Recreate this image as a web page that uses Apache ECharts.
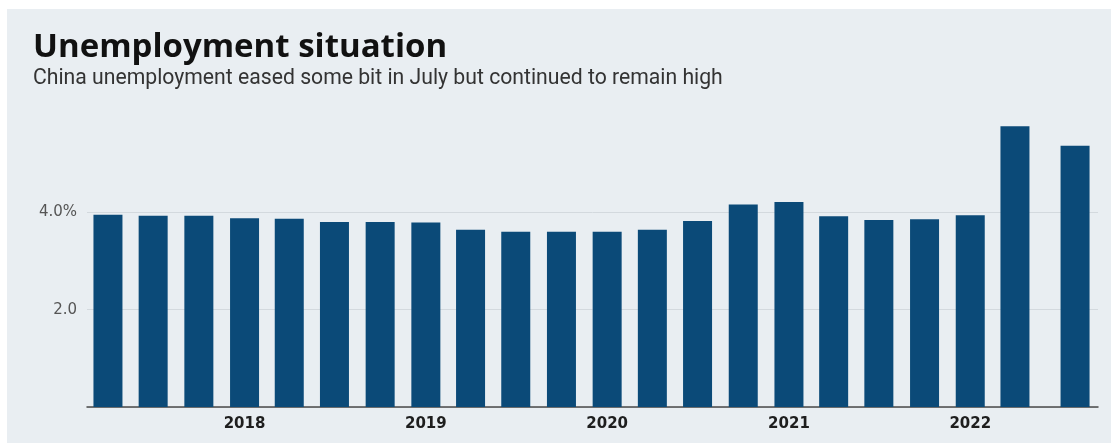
<!DOCTYPE html>
<html>
<head>
<meta charset="utf-8">
<script src="https://cdn.jsdelivr.net/npm/echarts@6/dist/echarts.min.js"></script>
<style>
  html, body { margin: 0; padding: 0; background: #ffffff; }
  #panel { position: absolute; left: 7px; top: 9px; width: 1104px; height: 434px; background: #E9EEF2; }
  #chart { position: absolute; left: 0; top: 0; width: 1111px; height: 443px; }
</style>
</head>
<body>
<div id="panel"></div>
<div id="chart"></div>
<script>
// Period dates (quarterly readings, last one is July 2022)
const periodDates = [
  '2017-04-01', '2017-07-01', '2017-10-01',
  '2018-01-01', '2018-04-01', '2018-07-01', '2018-10-01',
  '2019-01-01', '2019-04-01', '2019-07-01', '2019-10-01',
  '2020-01-01', '2020-04-01', '2020-07-01', '2020-10-01',
  '2021-01-01', '2021-04-01', '2021-07-01', '2021-10-01',
  '2022-01-01', '2022-04-01', '2022-07-31'
];
// Unemployment rate, %
const unemploymentRate = [
  3.95, 3.93, 3.93,
  3.88, 3.87, 3.80, 3.80,
  3.79, 3.64, 3.60, 3.60,
  3.60, 3.64, 3.82, 4.16,
  4.21, 3.92, 3.84, 3.86,
  3.94, 5.77, 5.37
];
// Y-axis tick labels
const yTickLabels = { 2: '2.0', 4: '4.0%' };

const titleText = 'Unemployment situation';
const subtitleText = 'China unemployment eased some bit in July but continued to remain high';

const chart = echarts.init(document.getElementById('chart'), null, { renderer: 'canvas' });

const YEAR_MS = 365.25 * 24 * 3600 * 1000;

chart.setOption({
  backgroundColor: 'transparent',
  animation: false,
  title: [
    {
      text: titleText,
      left: 33, top: 28, padding: 0,
      textStyle: { fontFamily: 'Open Sans', fontWeight: 'bold', fontSize: 33, color: '#111111', lineHeight: 40 }
    },
    {
      text: subtitleText,
      left: 33, top: 66, padding: 0,
      textStyle: { fontFamily: 'Roboto', fontWeight: 'normal', fontSize: 21.2, color: '#333333', lineHeight: 26 }
    }
  ],
  grid: { left: 87, right: 13, top: 115, bottom: 36, containLabel: false },
  xAxis: {
    type: 'time',
    // the bar series widens the extent by half a bar on each side
    min: '2017-03-19',
    max: '2022-08-17',
    minInterval: YEAR_MS,
    maxInterval: YEAR_MS,
    axisLine: { show: true, lineStyle: { color: '#4a4a4a', width: 1.5 } },
    axisTick: { show: false },
    splitLine: { show: false },
    axisLabel: {
      showMinLabel: false,
      showMaxLabel: false,
      hideOverlap: false,
      margin: 10,
      fontFamily: 'DejaVu Sans',
      fontWeight: 'bold',
      fontSize: 15,
      color: '#1e1e1e',
      formatter: function (value) {
        const d = new Date(value);
        return (d.getMonth() === 0 && d.getDate() === 1) ? String(d.getFullYear()) : '';
      }
    }
  },
  yAxis: {
    type: 'value',
    min: 0,
    max: 6,
    interval: 2,
    axisLine: { show: false },
    axisTick: { show: false },
    splitLine: { show: true, showMaxLine: false, lineStyle: { color: '#D3D9DE', width: 1 } },
    axisLabel: {
      margin: 10,
      fontFamily: 'DejaVu Sans',
      fontSize: 15,
      color: '#555555',
      formatter: function (v) { return yTickLabels[v] || ''; }
    }
  },
  series: [{
    type: 'bar',
    barWidth: 29,
    itemStyle: { color: '#0B4A78' },
    data: periodDates.map((d, i) => [d, unemploymentRate[i]])
  }]
});
</script>
</body>
</html>
